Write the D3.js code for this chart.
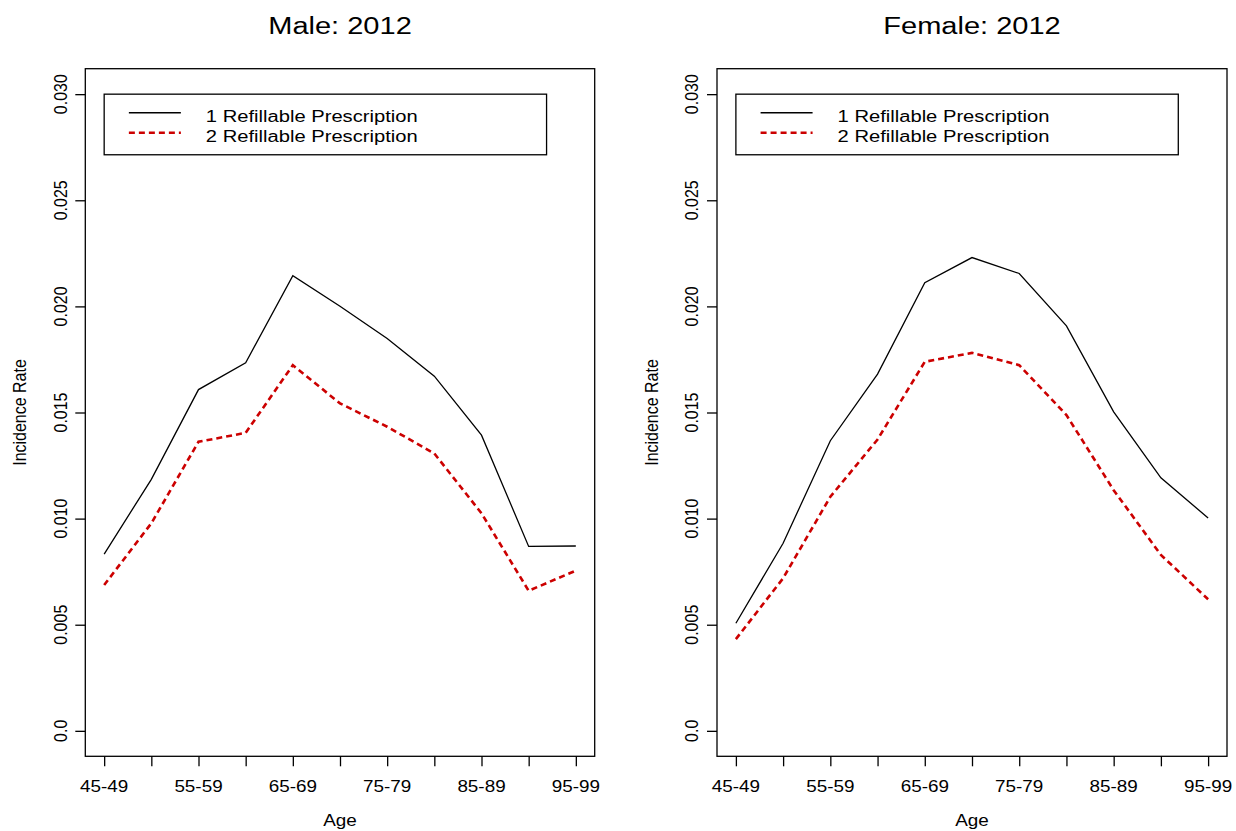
<html>
<head>
<title>Incidence Rate 2012</title>
<script src="https://cdn.jsdelivr.net/npm/d3@7"></script>
<style>
  body { margin: 0; background: #fff; }
  text { font-family: "Liberation Sans", Arial, sans-serif; fill: #000; }
</style>
</head>
<body>
<script>
// data
let ageGroups = ["45-49","50-54","55-59","60-64","65-69","70-74","75-79","80-84","85-89","90-94","95-99"]
let yTicks = [0, 0.005, 0.010, 0.015, 0.020, 0.025, 0.030]
let yTickLabels = ["0.0","0.005","0.010","0.015","0.020","0.025","0.030"]
let seriesNames = ["1 Refillable Prescription", "2 Refillable Prescription"]
let maleOne = [0.00833, 0.01185, 0.01608, 0.01734, 0.02145, 0.02001, 0.01849, 0.01671, 0.01393, 0.00869, 0.00871]
let maleTwo = [0.00687, 0.00978, 0.01362, 0.01404, 0.01723, 0.01543, 0.01433, 0.01307, 0.01025, 0.00660, 0.00755]
let femaleOne = [0.00507, 0.00884, 0.01367, 0.01681, 0.02112, 0.02230, 0.02155, 0.01908, 0.01503, 0.01192, 0.01003]
let femaleTwo = [0.00432, 0.00719, 0.01103, 0.01373, 0.01739, 0.01781, 0.01723, 0.01488, 0.01134, 0.00829, 0.00620]

let w = 1236, h = 831
let stretch = 1.18   // text in the reference is a bit wide
let svg = d3.select("body").append("svg").attr("width", w).attr("height", h)

let panels = [
  {title: "Male: 2012", left: 85.3, right: 594.7, one: maleOne, two: maleTwo},
  {title: "Female: 2012", left: 717, right: 1227, one: femaleOne, two: femaleTwo}
]
let plotTop = 68.7, plotBottom = 756.3

function label(g, x, y, str, size, anchor, rot) {
  g.append("text")
    .attr("transform", "translate(" + x + "," + y + ") scale(" + stretch + ",1)" + (rot ? " rotate(-90)" : ""))
    .attr("text-anchor", anchor)
    .attr("font-size", size)
    .text(str)
}

for (let p of panels) {
  let g = svg.append("g")
  let x = d3.scaleLinear().domain([-0.4, ageGroups.length - 0.6]).range([p.left, p.right])
  let y = d3.scaleLinear().domain([-0.0012, 0.0312]).range([plotBottom, plotTop])

  // frame
  g.append("rect")
    .attr("x", p.left).attr("y", plotTop)
    .attr("width", p.right - p.left).attr("height", plotBottom - plotTop)
    .attr("fill", "none").attr("stroke", "#000").attr("stroke-width", 1.3)

  // x axis: ticks on every group, labels on every other one
  let xAxis = d3.axisBottom(x)
    .tickValues(d3.range(ageGroups.length))
    .tickSize(10)
    .tickFormat(() => "")
  let xg = g.append("g").attr("transform", "translate(0," + plotBottom + ")").call(xAxis)
  xg.select(".domain").remove()
  xg.selectAll("line").attr("stroke", "#000").attr("stroke-width", 1.3)
  ageGroups.forEach((a, i) => {
    if (i % 2 == 0) label(g, x(i), 792, a, 16, "middle", false)
  })

  // y axis
  let yAxis = d3.axisLeft(y).tickValues(yTicks).tickSize(10).tickFormat(() => "")
  let yg = g.append("g").attr("transform", "translate(" + p.left + ",0)").call(yAxis)
  yg.select(".domain").remove()
  yg.selectAll("line").attr("stroke", "#000").attr("stroke-width", 1.3)
  yTicks.forEach((t, i) => label(g, p.left - 18.6, y(t), yTickLabels[i], 16, "middle", true))

  // titles
  label(g, (p.left + p.right) / 2, 34, p.title, 24.6, "middle", false)
  label(g, (p.left + p.right) / 2, 826, "Age", 16, "middle", false)
  label(g, p.left - 59.5, (plotTop + plotBottom) / 2, "Incidence Rate", 16, "middle", true)

  // lines
  let line = d3.line().x((d, i) => x(i)).y(d => y(d))
  g.append("path").datum(p.one).attr("d", line)
    .attr("fill", "none").attr("stroke", "#000").attr("stroke-width", 1.3)
  g.append("path").datum(p.two).attr("d", line)
    .attr("fill", "none").attr("stroke", "#cc0000").attr("stroke-width", 2.6)
    .attr("stroke-dasharray", "6,4")

  // legend
  let lx = x(0), ly = y(0.030)
  let lg = g.append("g").attr("transform", "translate(" + lx + "," + ly + ")")
  lg.append("rect").attr("width", 442.4).attr("height", 60.6)
    .attr("fill", "#fff").attr("stroke", "#000").attr("stroke-width", 1.3)
  lg.append("line").attr("x1", 24.7).attr("x2", 76.7).attr("y1", 18.6).attr("y2", 18.6)
    .attr("stroke", "#000").attr("stroke-width", 1.3)
  lg.append("line").attr("x1", 24.7).attr("x2", 76.7).attr("y1", 38.6).attr("y2", 38.6)
    .attr("stroke", "#cc0000").attr("stroke-width", 2.6).attr("stroke-dasharray", "6,4")
  label(lg, 101.7, 28, seriesNames[0], 17.1, "start", false)
  label(lg, 101.7, 48, seriesNames[1], 17.1, "start", false)
}
</script>
</body>
</html>
